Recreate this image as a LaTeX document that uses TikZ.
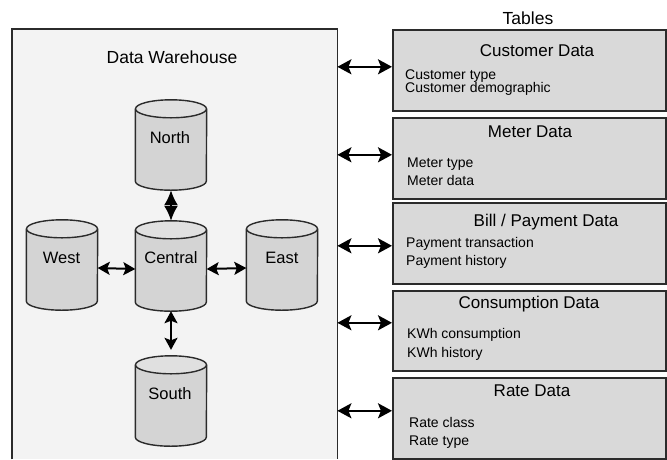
\documentclass[tikz,border=0pt]{standalone}
\usepackage{fontspec}
\setmainfont{Liberation Sans}
\usetikzlibrary{arrows.meta}
\definecolor{edge}{HTML}{2B2B2B}
\definecolor{whfill}{HTML}{F3F3F3}
\definecolor{tblfill}{HTML}{D9D9D9}
\definecolor{cylbody}{HTML}{D4D4D4}
\definecolor{cylend}{HTML}{E0E0E0}
\newcommand\drawdb[1]{%
  \fill[cylbody] ([yshift=-9pt]#1.north west) -- ([yshift=9pt]#1.south west)
     arc[start angle=180, end angle=360, x radius=35.5pt, y radius=9pt]
     -- ([yshift=-9pt]#1.north east) -- cycle;
  \draw[draw=edge, line width=1.4pt] ([yshift=-9pt]#1.north west) -- ([yshift=9pt]#1.south west)
     arc[start angle=180, end angle=360, x radius=35.5pt, y radius=9pt]
     -- ([yshift=-9pt]#1.north east);
  \draw[draw=edge, fill=cylend, line width=1.4pt] ([yshift=-9pt]#1.north) ellipse [x radius=35.5pt, y radius=9pt];
}
\begin{document}
\begin{tikzpicture}[x=1pt,y=-1pt,
  tbl/.style={draw=edge, line width=1.6pt, fill=tblfill, anchor=north west, minimum width=273pt, minimum height=81pt, inner sep=0pt},
  db/.style={rectangle, minimum width=71pt, minimum height=90pt, inner sep=0pt},
  title/.style={font=\fontsize{17}{20}\selectfont, anchor=base, inner sep=0pt},
  item/.style={font=\fontsize{14}{16}\selectfont, anchor=base west, inner sep=0pt},
  dblabel/.style={font=\fontsize{16.5}{19}\selectfont, anchor=base, inner sep=0pt},
  link/.style={{Stealth[length=14pt,width=15pt,inset=3pt]}-{Stealth[length=14pt,width=15pt,inset=3pt]}, line width=2pt, draw=black},
  dblink/.style={{Stealth[length=12pt,width=13pt,inset=2.5pt]}-{Stealth[length=12pt,width=13pt,inset=2.5pt]}, line width=2pt, draw=black},
  diamondlink/.style={{Latex[length=15pt,width=14pt]}-{Latex[length=15pt,width=14pt]}, line width=2pt, draw=black}]

\useasboundingbox[fill=white] (0,0) rectangle (667,459);

% warehouse frame (open at the bottom)
\node[fill=whfill, anchor=north west, minimum width=325pt, minimum height=430pt, inner sep=0pt] (wh) at (12,29) {};
\draw[draw=edge, line width=1.6pt] (wh.south west) -- (wh.north west) -- (wh.north east) -- (wh.south east);
\node[title, font=\fontsize{17.5}{20}\selectfont] (whlabel) at (172,63) {Data Warehouse};

% tables
\node[title, font=\fontsize{17.5}{20}\selectfont] (tableslabel) at (528,24) {Tables};

\node[tbl] (cust) at (392,29) {};
\node[tbl] (meter) at (392,117) {};
\node[tbl] (bill) at (392,202) {};
\node[tbl, minimum height=80pt] (cons) at (392,290) {};
\node[tbl] (rate) at (392,377) {};

\node[title] (custT) at (537,56) {Customer Data};
\node[item] (custA) at (405,79) {Customer type};
\node[item] (custB) at (405,92) {Customer demographic};

\node[title] (meterT) at (530,137) {Meter Data};
\node[item] (meterA) at (407,167) {Meter type};
\node[item] (meterB) at (407,185) {Meter data};

\node[title] (billT) at (546,226) {Bill / Payment Data};
\node[item] (billA) at (406,247) {Payment transaction};
\node[item] (billB) at (406,265) {Payment history};

\node[title] (consT) at (529,308) {Consumption Data};
\node[item] (consA) at (407,338) {KWh consumption};
\node[item] (consB) at (407,357) {KWh history};

\node[title] (rateT) at (532,396) {Rate Data};
\node[item] (rateA) at (409,427) {Rate class};
\node[item] (rateB) at (409,445) {Rate type};

% links warehouse <-> tables
\draw[link] ([yshift=3.5pt]cust.west -| wh.east) -- ([yshift=3.5pt]cust.west);
\draw[link] ([yshift=3.5pt]meter.west -| wh.east) -- ([yshift=3.5pt]meter.west);
\draw[link] ([yshift=-2.5pt]bill.west -| wh.east) -- ([yshift=-2.5pt]bill.west);
\draw[link] ([yshift=8pt]cons.west -| wh.east) -- ([yshift=8pt]cons.west);
\draw[link] ([yshift=7.5pt]rate.west -| wh.east) -- ([yshift=7.5pt]rate.west);

% databases
\node[db] (north) at (171,145) {};
\node[db] (central) at (171,266) {};
\node[db] (west) at (62,265) {};
\node[db] (east) at (282,265) {};
\node[db] (south) at (171,401) {};
\drawdb{north}
\drawdb{central}
\drawdb{west}
\drawdb{east}
\drawdb{south}

\node[dblabel] (northL) at (170,143) {North};
\node[dblabel] (centralL) at (171,263) {Central};
\node[dblabel] (westL) at (61.5,263) {West};
\node[dblabel] (eastL) at (282,263) {East};
\node[dblabel] (southL) at (170,399) {South};

\draw[diamondlink] (north.south) -- (central.north);
\draw[dblink] ([yshift=-3pt]west.east) -- ([yshift=-3pt]central.west);
\draw[dblink] ([yshift=-3pt]central.east) -- ([yshift=-3pt]east.west);
\draw[dblink] (central.south) -- ([yshift=6pt]south.north);
\end{tikzpicture}
\end{document}
